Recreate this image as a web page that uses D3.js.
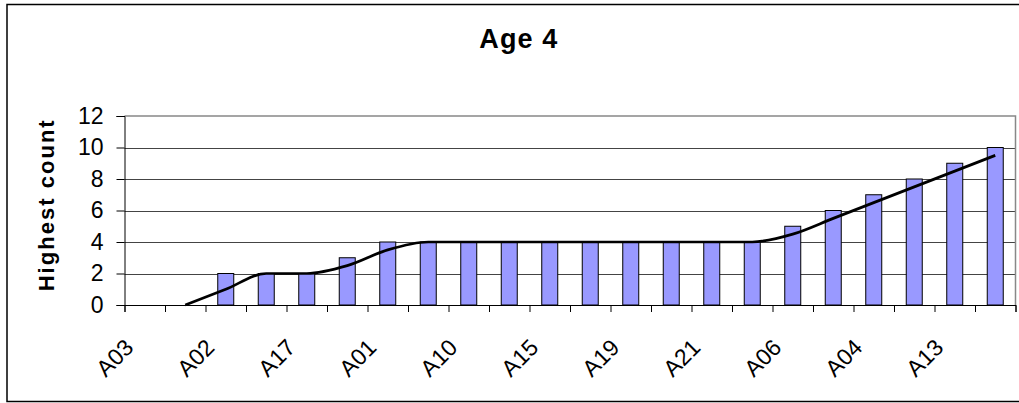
<!DOCTYPE html>
<html><head><meta charset="utf-8">
<script src="https://cdn.jsdelivr.net/npm/d3@7"></script>
<style>body{margin:0;background:#fff}svg{display:block}text{font-family:Arial,"Liberation Sans",sans-serif}</style>
</head><body><svg id="c" width="1019" height="403"></svg>
<script>
const categoryIndex = d3.range(22);
const xLabels = ["A03","A02","A17","A01","A10","A15","A19","A21","A06","A04","A13"]; // shown on every other category
const values = [0,0,2,2,2,3,4,4,4,4,4,4,4,4,4,4,5,6,7,8,9,10];
// 2-period moving-average trendline, points at categories 1..21
const trendIndex = d3.range(1,22);
const trendValues = [0,1,2,2,2.5,3.5,4,4,4,4,4,4,4,4,4,4.5,5.5,6.5,7.5,8.5,9.5];
const yTicks = [0,2,4,6,8,10,12];
const title = "Age 4", yTitle = "Highest count";

const svg = d3.select("#c");
const X0 = 124.5, X1 = 1015.5, Y0 = 305, Y1 = 116;
const x = d3.scaleBand().domain(categoryIndex).range([X0,X1]).paddingInner(0.605).paddingOuter(0.3025);
const xl = d3.scaleLinear().domain([0,22]).range([X0,X1]);
const y = d3.scaleLinear().domain([0,12]).range([Y0,Y1]);

// outer border
svg.append("rect").attr("x",7).attr("y",4.5).attr("width",1030).attr("height",397)
  .attr("fill","#fff").attr("stroke","#000").attr("stroke-width",1.5);

// gridlines
svg.append("g").selectAll("line").data(yTicks.filter(d=>d>0 && d<12)).join("line")
  .attr("x1",X0).attr("x2",X1).attr("y1",d=>Math.round(y(d))+0.5).attr("y2",d=>Math.round(y(d))+0.5)
  .attr("stroke","#444").attr("stroke-width",1);
// plot border top/right
svg.append("path").attr("d",`M${X0},${Y1}H${X1}V${Y0}`).attr("fill","none").attr("stroke","#888").attr("stroke-width",1.5);

// bars
svg.append("g").selectAll("rect").data(values.map((v,i)=>({i,v})).filter(d=>d.v>0)).join("rect")
  .attr("x",d=>x(d.i)).attr("width",x.bandwidth())
  .attr("y",d=>y(d.v)).attr("height",d=>y(0)-y(d.v))
  .attr("fill","#9999FF").attr("stroke","#000").attr("stroke-width",1);

// trendline
svg.append("path").datum(trendIndex.map((c,k)=>[x(c)+x.bandwidth()/2, y(trendValues[k])]))
  .attr("d",d3.line().curve(d3.curveMonotoneX))
  .attr("fill","none").attr("stroke","#000").attr("stroke-width",2.7);

// y axis
const ya = svg.append("g").attr("transform",`translate(${X0},0)`)
  .call(d3.axisLeft(y).tickValues(yTicks).tickSize(8).tickPadding(13).tickFormat(d3.format("d")));
ya.select(".domain").attr("stroke","#000");
ya.selectAll(".tick line").attr("stroke","#000");
ya.selectAll("text").attr("font-size",23).attr("fill","#000").attr("font-family",'Arial,"Liberation Sans",sans-serif');

// x axis (ticks between categories)
const xa = svg.append("g").attr("transform",`translate(0,${Y0})`)
  .call(d3.axisBottom(xl).tickValues(d3.range(23)).tickSize(7).tickFormat(""));
xa.select(".domain").attr("stroke","#000");
xa.selectAll(".tick line").attr("stroke","#000");

// x labels
svg.append("g").selectAll("text").data(xLabels).join("text")
  .attr("transform",(d,k)=>`translate(${x(k*2)+x.bandwidth()/2-10},${Y0+44}) rotate(-45)`)
  .attr("text-anchor","end").attr("font-size",23).attr("fill","#000").text(d=>d);

// titles
svg.append("text").attr("x",518.3).attr("y",47.7).attr("text-anchor","middle")
  .attr("font-size",27).attr("font-weight","bold")
  .attr("textLength",78).attr("lengthAdjust","spacing").text(title);
svg.append("text").attr("transform",`translate(53.5,205.8) rotate(-90)`).attr("text-anchor","middle")
  .attr("font-size",22).attr("font-weight","bold")
  .attr("textLength",171).attr("lengthAdjust","spacing").text(yTitle);
</script></body></html>
